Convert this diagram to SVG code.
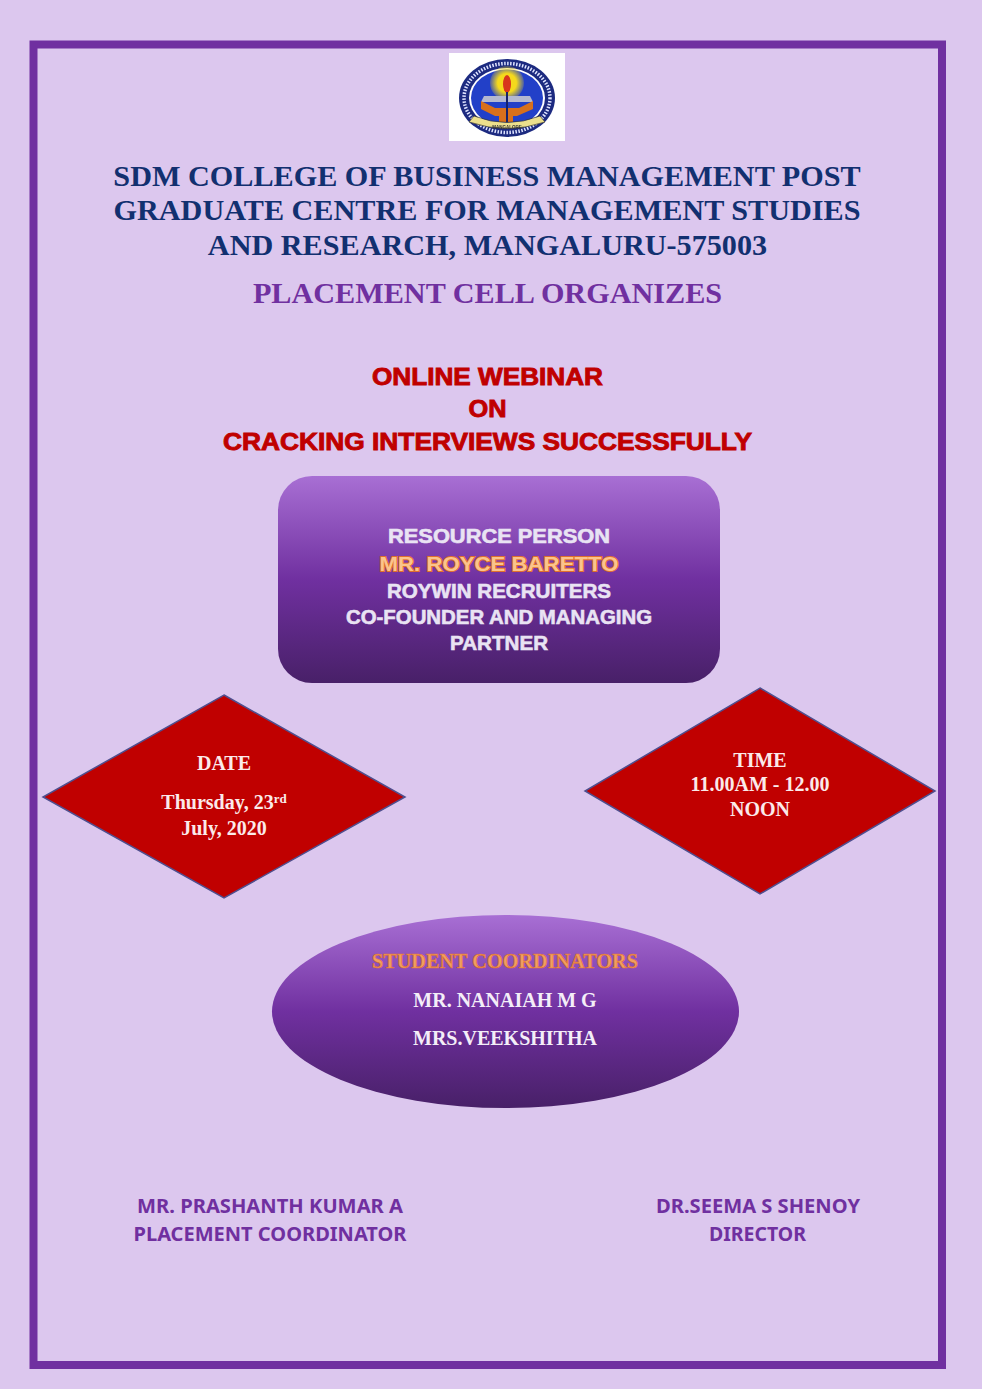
<svg xmlns="http://www.w3.org/2000/svg" width="982" height="1389" viewBox="0 0 982 1389">
<style>
.c{text-anchor:middle}
.se{font-family:"Liberation Serif","Times New Roman",serif;font-weight:700}
.sa{font-family:"Liberation Sans",Arial,sans-serif;font-weight:700}
.ns{font-family:"Noto Sans","Open Sans",sans-serif;font-weight:700;fill:#7030a0}
.h{fill:#123070;font-size:30.2px}
.r{fill:#c00000;font-size:24px;stroke:#c00000;stroke-width:.9px}
.w{fill:#e9e3f3;font-size:20px;stroke:#e9e3f3;stroke-width:.6px}
.d{fill:#fbeaea;font-size:20px}
.e{fill:#f4eef8;font-size:20px}
.o{fill:#fbc48c;stroke:#e0702c;stroke-width:1.800px;paint-order:stroke}
.t{fill:#f0a060;stroke:#e0702c;stroke-width:.6px}
</style>
<defs>
<linearGradient id="g" x1="0" y1="0" x2="0" y2="1">
<stop offset="0" stop-color="#a86fd4"/><stop offset=".5" stop-color="#7030a0"/><stop offset="1" stop-color="#482068"/>
</linearGradient>
<radialGradient id="sun"><stop offset=".55" stop-color="#f5d91c"/><stop offset="1" stop-color="#f5d91c" stop-opacity=".2"/></radialGradient>
<filter id="soft" x="-5%" y="-5%" width="110%" height="110%"><feGaussianBlur stdDeviation=".45"/></filter>
</defs>
<rect width="982" height="1389" fill="#dcc7ee"/>
<rect x="33.500" y="44.500" width="908.500" height="1320.500" fill="none" stroke="#7030a0" stroke-width="8"/>
<g id="logo">
<rect x="449" y="53" width="116" height="88" fill="#fff"/>
<g filter="url(#soft)">
<ellipse cx="507" cy="98" rx="48" ry="39" fill="#1c2a80"/>
<ellipse cx="507" cy="98" rx="43" ry="34.500" fill="none" stroke="#dfe4ff" stroke-width="3.500" stroke-dasharray="1.500 1.500"/>
<ellipse cx="507" cy="98" rx="38" ry="30" fill="#fff"/>
<ellipse cx="507" cy="98" rx="36" ry="28.500" fill="#2340c8"/>
<circle cx="507" cy="83" r="17" fill="url(#sun)"/>
<ellipse cx="507" cy="84" rx="4" ry="9" fill="#d8351c"/>
<path d="M484 96h46l3 6h-52z" fill="#b4b8d0"/>
<path d="M481 101l14 7h24l14-7v8l-16 7h-4v6h-14v-6h-4l-14-7z" fill="#d8701c"/>
<path d="M506 92h2v32h-2z" fill="#14206a"/>
<path d="M474 116q33 13 66 0l5 6q-38 13-76 0z" fill="#ecdf8c" stroke="#333" stroke-width=".7"/>
<text class="sa c" x="507" y="129" font-size="4.500" fill="#333">MANGALORE</text>
</g>
</g>
<g id="heading">
<text class="se h c" x="487" y="186">SDM COLLEGE OF BUSINESS MANAGEMENT POST</text>
<text class="se h c" x="487" y="220">GRADUATE CENTRE FOR MANAGEMENT STUDIES</text>
<text class="se h c" x="487.500" y="255">AND RESEARCH, MANGALURU-575003</text>
<text class="se c" x="487.500" y="303" fill="#7030a0" font-size="30.200">PLACEMENT CELL ORGANIZES</text>
</g>
<g id="webinar">
<text class="sa r c" x="487.500" y="385" textLength="231" lengthAdjust="spacingAndGlyphs">ONLINE WEBINAR</text>
<text class="sa r c" x="487.500" y="417" textLength="38" lengthAdjust="spacingAndGlyphs">ON</text>
<text class="sa r c" x="487.500" y="450" textLength="529" lengthAdjust="spacingAndGlyphs">CRACKING INTERVIEWS SUCCESSFULLY</text>
</g>
<g id="resource-person">
<rect x="278" y="476" width="442" height="207" rx="34" fill="url(#g)"/>
<text class="sa w c" x="499" y="543" textLength="222" lengthAdjust="spacingAndGlyphs">RESOURCE PERSON</text>
<text class="sa o c" x="499" y="571" font-size="20" textLength="239" lengthAdjust="spacingAndGlyphs">MR. ROYCE BARETTO</text>
<text class="sa w c" x="499" y="598" textLength="224" lengthAdjust="spacingAndGlyphs">ROYWIN RECRUITERS</text>
<text class="sa w c" x="499" y="624" textLength="306" lengthAdjust="spacingAndGlyphs">CO-FOUNDER AND MANAGING</text>
<text class="sa w c" x="499" y="650" textLength="98" lengthAdjust="spacingAndGlyphs">PARTNER</text>
</g>
<g id="date">
<polygon points="224,695 405,797 224,898 43,797" fill="#c00000" stroke="#4f4f8f" stroke-width="1.500"/>
<text class="se d c" x="224" y="770">DATE</text>
<text class="se d c" x="224" y="809">Thursday, 23<tspan font-size="13" dy="-6">rd</tspan></text>
<text class="se d c" x="224" y="835">July, 2020</text>
</g>
<g id="time">
<polygon points="760,688 935,791 760,894 585,791" fill="#c00000" stroke="#4f4f8f" stroke-width="1.500"/>
<text class="se d c" x="760" y="767">TIME</text>
<text class="se d c" x="760" y="791">11.00AM - 12.00</text>
<text class="se d c" x="760" y="816">NOON</text>
</g>
<g id="coordinators">
<ellipse cx="505.500" cy="1011.500" rx="233.500" ry="96.500" fill="url(#g)"/>
<text class="se t c" x="505" y="968" font-size="20" textLength="266" lengthAdjust="spacingAndGlyphs">STUDENT COORDINATORS</text>
<text class="se e c" x="505" y="1007">MR. NANAIAH M G</text>
<text class="se e c" x="505" y="1045">MRS.VEEKSHITHA</text>
</g>
<g id="placement-coordinator">
<text class="ns c" x="270" y="1213" font-size="20" textLength="266" lengthAdjust="spacingAndGlyphs">MR. PRASHANTH KUMAR A</text>
<text class="ns c" x="270" y="1241" font-size="20" textLength="273" lengthAdjust="spacingAndGlyphs">PLACEMENT COORDINATOR</text>
</g>
<g id="director">
<text class="ns c" x="758" y="1213" font-size="20" textLength="204" lengthAdjust="spacingAndGlyphs">DR.SEEMA S SHENOY</text>
<text class="ns c" x="757.500" y="1241" font-size="20" textLength="97" lengthAdjust="spacingAndGlyphs">DIRECTOR</text>
</g>
<g id="connectors"/>
</svg>
